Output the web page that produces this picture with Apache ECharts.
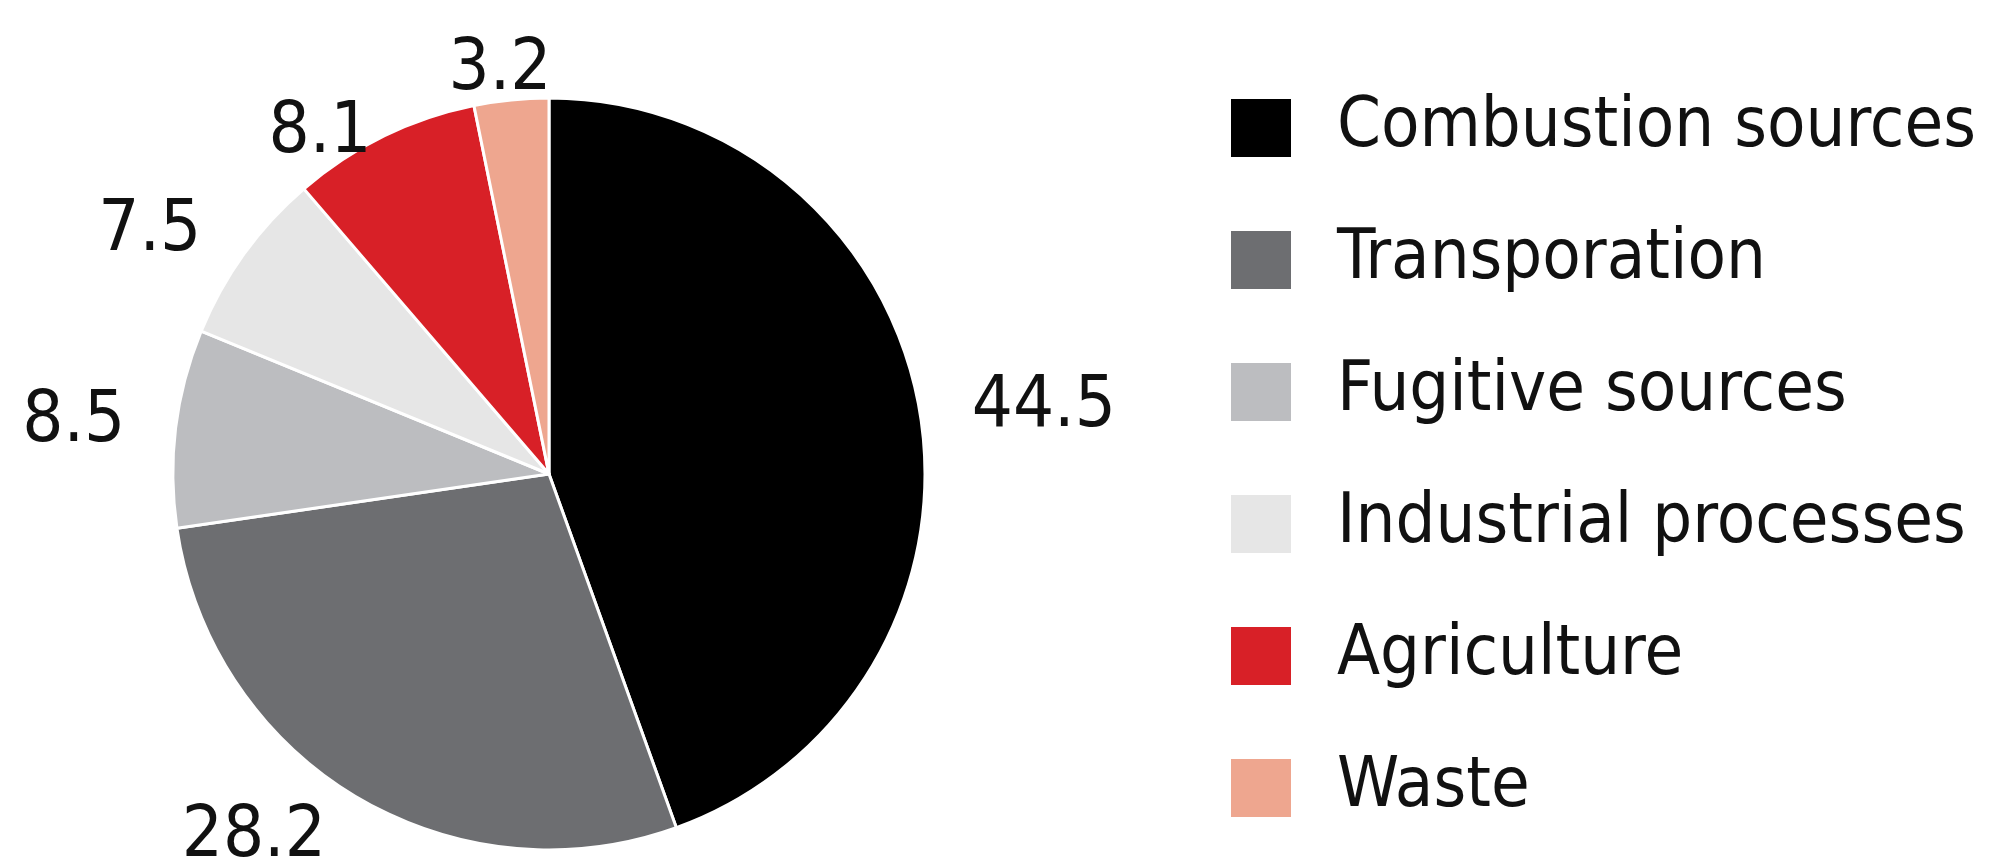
<!DOCTYPE html>
<html>
<head>
<meta charset="utf-8">
<script src="https://cdn.jsdelivr.net/npm/echarts@6/dist/echarts.min.js"></script>
<style>
html,body{margin:0;padding:0;background:#fff;}
#chart{width:1990px;height:862px;}
</style>
</head>
<body>
<div id="chart"></div>
<script>
const categories = ['Combustion sources', 'Transporation', 'Fugitive sources', 'Industrial processes', 'Agriculture', 'Waste'];
const values = [44.5, 28.2, 8.5, 7.5, 8.1, 3.2];
const colors = ['#000000', '#6d6e71', '#bcbdc0', '#e6e6e6', '#d82027', '#eea68f'];
const labelOffsets = [[0, 6], [0, 0], [2, 0], [1, 5], [14, 40], [50, 18]];

const FONT = '"DejaVu Sans Condensed", "DejaVu Sans", sans-serif';

const chart = echarts.init(document.getElementById('chart'), null, {renderer: 'canvas'});
const data = categories.map((name, i) => ({
  name: name,
  value: values[i],
  itemStyle: {color: colors[i]},
  label: {offset: labelOffsets[i]}
}));

chart.setOption({
  animation: false,
  backgroundColor: '#ffffff',
  legend: {
    orient: 'vertical',
    left: 1224,
    top: 88,
    height: 800,
    icon: 'rect',
    itemWidth: 62,
    itemHeight: 60,
    itemGap: 62,
    selectedMode: false,
    data: categories,
    textStyle: {
      fontFamily: FONT,
      fontSize: 70,
      color: '#111111',
      padding: [0, 0, 0, 40]
    }
  },
  series: [{
    type: 'pie',
    center: [549, 474],
    radius: [0, 376],
    startAngle: 90,
    clockwise: true,
    avoidLabelOverlap: false,
    data: data,
    itemStyle: {borderColor: '#ffffff', borderWidth: 3},
    label: {
      show: true,
      position: 'outside',
      formatter: p => p.value.toFixed(1),
      fontFamily: FONT,
      fontSize: 72,
      color: '#111111',
      distanceToLabelLine: 5
    },
    labelLine: {show: false, length: 48, length2: 0},
    emphasis: {disabled: true}
  }]
});
</script>
</body>
</html>
